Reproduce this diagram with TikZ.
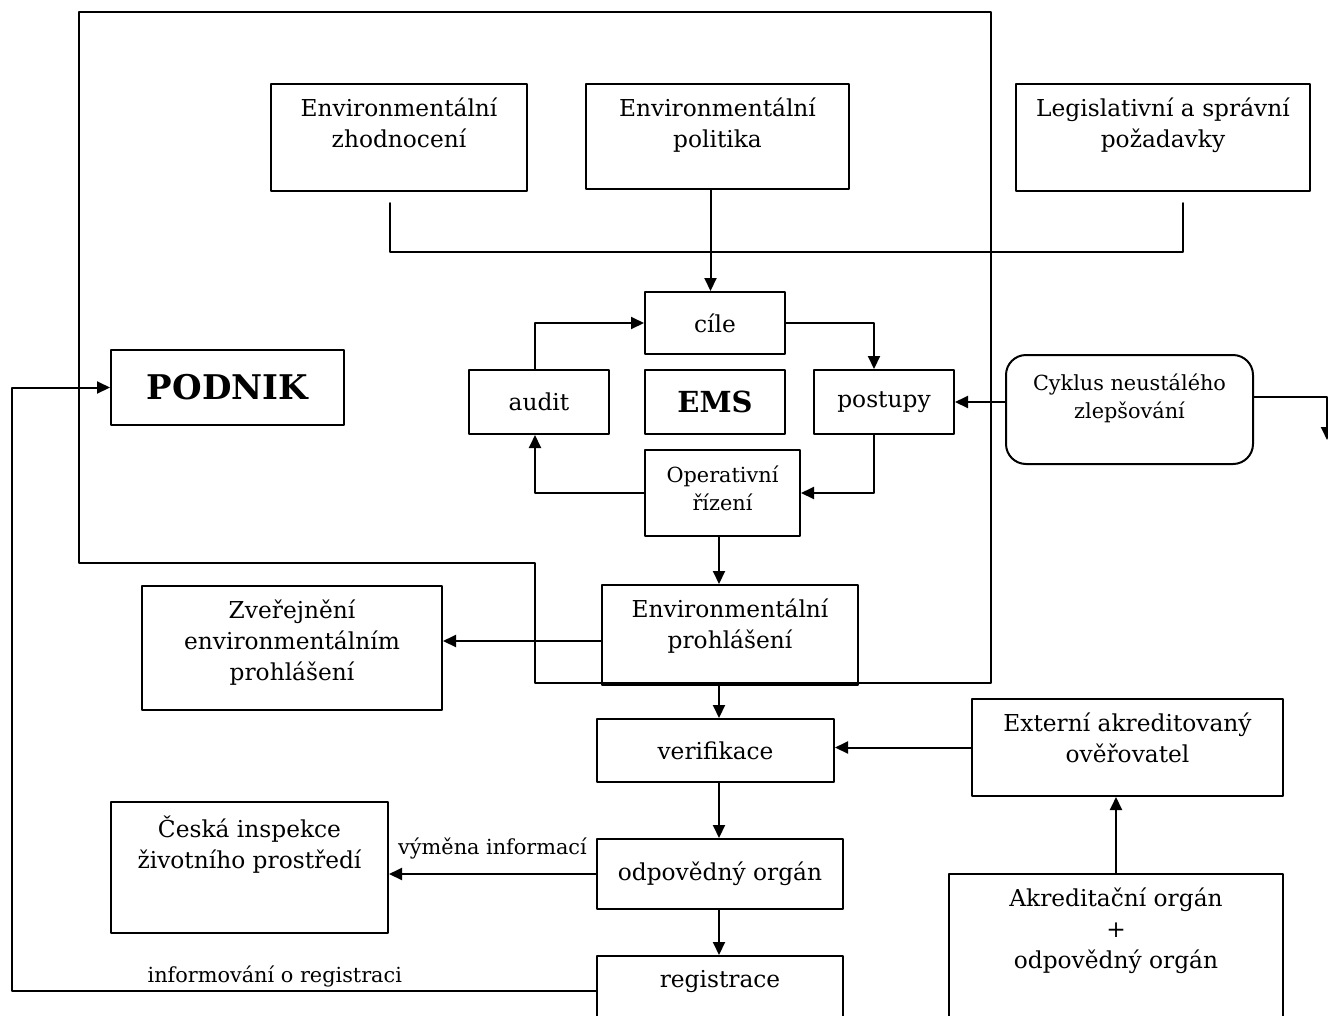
\documentclass[tikz,border=0pt]{standalone}
\usepackage{fontspec}
\setmainfont{DejaVu Serif}
\usetikzlibrary{arrows.meta}

\newcommand{\vel}{\fontsize{23.3}{31}\selectfont}
\newcommand{\mal}{\fontsize{20.8}{28}\selectfont}

\tikzset{
  ram/.style={draw, line width=2pt, anchor=north west, inner sep=0pt, font=\vel},
  popisek/.style={anchor=north, align=center, inner sep=0pt, yshift=-14pt, font=\vel},
  horni/.style={label={[popisek]north:#1}},
  popis/.style={inner sep=0pt, font=\mal}
}

\begin{document}
\begin{tikzpicture}[line cap=round,line join=round,>={Triangle[length=13pt,width=12pt]},x=1pt,y=-1pt,line width=2pt]
	\useasboundingbox (0,0) rectangle (1328,1015);
	\clip (0,0) rectangle (1328,1015);
	% ramec podniku
	\draw (79,12) -- (991,12) -- (991,683) -- (535,683) -- (535,563) -- (79,563) -- cycle;
	\node[ram, minimum width=256pt, minimum height=107pt, horni={Environmentální\\zhodnocení}] (zhod) at (270,83) {};
	\node[ram, minimum width=263pt, minimum height=105pt, horni={Environmentální\\politika}] (polit) at (585,83) {};
	\node[ram, minimum width=294pt, minimum height=107pt, horni={Legislativní a správní\\požadavky}] (legis) at (1015,83) {};
	\node[ram, minimum width=140pt, minimum height=62pt] (cile) at (644,291) {cíle};
	\node[ram, minimum width=140pt, minimum height=64pt] (audit) at (468,369) {audit};
	\node[ram, minimum width=140pt, minimum height=64pt, font={\fontsize{29}{34}\selectfont\bfseries}] (ems) at (644,369) {EMS};
	\node[ram, minimum width=140pt, minimum height=64pt] (post) at (813,369) {postupy};
	\node[ram, minimum width=155pt, minimum height=86pt, label={[popisek, font=\mal, yshift=-2pt]north:Operativní\\řízení}] (oper) at (644,449) {};
	\node[ram, rounded corners=20pt, minimum width=247pt, minimum height=109pt, label={[popisek, font=\mal, yshift=-5pt]north:Cyklus neustálého\\zlepšování}] (cykl) at (1005,354) {};
	\node[ram, minimum width=233pt, minimum height=75pt, font={\fontsize{34}{40}\selectfont\bfseries}] (podnik) at (110,349) {PODNIK};
	\node[ram, minimum width=256pt, minimum height=100pt, horni={Environmentální\\prohlášení}] (prohl) at (601,584) {};
	\node[ram, minimum width=300pt, minimum height=124pt, horni={Zveřejnění\\environmentálním\\prohlášení}] (zverej) at (141,585) {};
	\node[ram, minimum width=237pt, minimum height=63pt] (verif) at (596,718) {verifikace};
	\node[ram, minimum width=311pt, minimum height=97pt, horni={Externí akreditovaný\\ověřovatel}] (ext) at (971,698) {};
	\node[ram, minimum width=334pt, minimum height=170pt, horni={Akreditační orgán\\+\\odpovědný orgán}] (akred) at (948,873) {};
	\node[ram, minimum width=277pt, minimum height=131pt, horni={Česká inspekce\\životního prostředí}] (ceska) at (110,801) {};
	\node[ram, minimum width=246pt, minimum height=70pt] (odpov) at (596,838) {odpovědný orgán};
	\node[ram, minimum width=246pt, minimum height=70pt, horni={registrace}] (regis) at (596,955) {};
	\coordinate (osa) at (719,0);
	\coordinate (zl) at (390,203);
	\coordinate (lg) at (1183,203);
	\coordinate (ven) at (1327,440);
	\coordinate (lev) at (12,600);
	% vstupy do cilu
	\draw (zl) -- ++(0,49) -| (lg);
	\draw[->] ([xshift=-7pt]polit.south) -- ([xshift=-7pt]polit.south |- cile.north);
	% cyklus EMS
	\draw[->] ([xshift=-4pt]audit.north) |- (cile.west);
	\draw[->] (cile.east) -| ([xshift=-10pt]post.north);
	\draw[->] ([xshift=-10pt]post.south) |- (oper.east);
	\draw[->] (oper.west) -| ([xshift=-4pt]audit.south);
	\draw[->] (cykl.west |- post.east) -- (post.east);
	\draw[->] ([yshift=13pt]cykl.east) -| (ven);
	% registrace
	\draw[->] (osa |- oper.south) -- (osa |- prohl.north);
	\draw[->] ([yshift=-6pt]prohl.west) -- ([yshift=-6pt]prohl.west -| zverej.east);
	\draw[->] (osa |- prohl.south) -- (osa |- verif.north);
	\draw[->] (ext.west) -- (ext.west -| verif.east);
	\draw[->] (akred.north) -- (akred.north |- ext.south);
	\draw[->] (osa |- verif.south) -- (osa |- odpov.north);
	\draw[->] (osa |- odpov.south) -- (osa |- regis.north);
	\draw[->] (odpov.west) -- node[popis, above, yshift=14pt] {výměna informací} (odpov.west -| ceska.east);
	\draw[->] (regis.west) -- node[popis, pos=0.55, above, yshift=3pt] {informování o registraci} (regis.west -| lev) |- (podnik.west);
\end{tikzpicture}
\end{document}
